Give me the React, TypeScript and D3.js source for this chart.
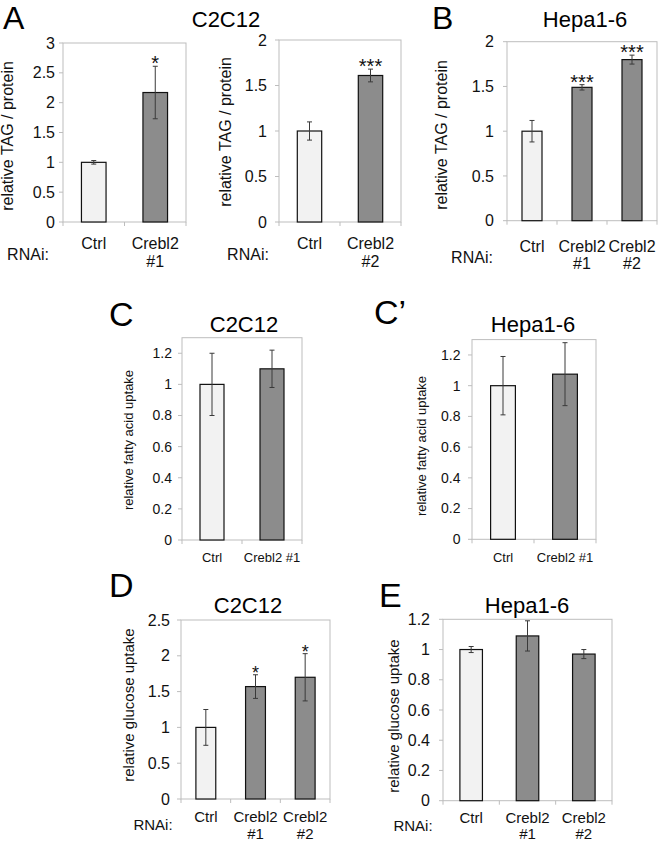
import React from "react";
import * as d3 from "d3";

// ---------- DATA ----------
const catsA1 = [["Ctrl"], ["Crebl2", "#1"]];
const valsA1 = [1.0, 2.17];
const errA1 = [0.03, 0.44];
const starsA1 = ["", "*"];

const catsA2 = [["Ctrl"], ["Crebl2", "#2"]];
const valsA2 = [1.0, 1.61];
const errA2 = [0.1, 0.07];
const starsA2 = ["", "***"];

const catsB = [["Ctrl"], ["Crebl2", "#1"], ["Crebl2", "#2"]];
const valsB = [1.0, 1.49, 1.8];
const errB = [0.12, 0.03, 0.05];
const starsB = ["", "***", "***"];

const catsC = [["Ctrl"], ["Crebl2 #1"]];
const valsC = [1.0, 1.1];
const errC = [0.2, 0.12];

const catsC2 = [["Ctrl"], ["Crebl2 #1"]];
const valsC2 = [1.0, 1.075];
const errC2 = [0.19, 0.205];

const catsD = [["Ctrl"], ["Crebl2", "#1"], ["Crebl2", "#2"]];
const valsD = [1.0, 1.57, 1.7];
const errD = [0.25, 0.165, 0.33];
const starsD = ["", "*", "*"];

const catsE = [["Ctrl"], ["Crebl2", "#1"], ["Crebl2", "#2"]];
const valsE = [1.0, 1.09, 0.97];
const errE = [0.02, 0.1, 0.03];

const ticksTAG3 = [0, 0.5, 1, 1.5, 2, 2.5, 3];
const ticksTAG2 = [0, 0.5, 1, 1.5, 2];
const ticksFA = [0, 0.2, 0.4, 0.6, 0.8, 1, 1.2];
const ticksGluD = [0, 0.5, 1, 1.5, 2, 2.5];
const ticksGluE = [0, 0.2, 0.4, 0.6, 0.8, 1, 1.2];

// ---------- STYLE ----------
const FONT = "'Liberation Sans', Arial, Helvetica, sans-serif";
const CTRL_FILL = "#f2f2f2";
const TREAT_FILL = "#8c8c8c";
const FRAME = "#bdbdbd";
const ERR = "#3a3a3a";

type PanelProps = {
  x0: number; x1: number; y0: number; y1: number;
  yMax: number; ticks: number[];
  cats: string[][]; vals: number[]; errs: number[]; stars?: string[];
  tickFont: number; tickGap: number;
  catFont: number; catY1: number; catY2: number;
  yLabel: string; yLabelFont: number; yLabelX: number; yLabelY: number;
  rnai?: { x: number; y: number; font: number };
  starFont?: number;
};

function Panel(p: PanelProps) {
  const x = d3
    .scaleBand<number>()
    .domain(p.vals.map((_, i) => i))
    .range([p.x0, p.x1])
    .paddingInner(0.6)
    .paddingOuter(0.3);
  const y = d3.scaleLinear().domain([0, p.yMax]).range([p.y1, p.y0]);
  const step = x.step();
  const fmt = (v: number) => String(+v.toFixed(1));
  const boundaries = d3.range(p.vals.length + 1).map((i) => p.x0 + i * step);
  return (
    <g fontFamily={FONT}>
      <rect x={p.x0} y={p.y0} width={p.x1 - p.x0} height={p.y1 - p.y0} fill="white" stroke={FRAME} strokeWidth={1} />
      {p.ticks.map((t) => (
        <g key={"yt" + t}>
          <line x1={p.x0 - 4} x2={p.x0} y1={y(t)} y2={y(t)} stroke={FRAME} />
          <text x={p.x0 - p.tickGap} y={y(t)} dy="0.35em" textAnchor="end" fontSize={p.tickFont} fill="#111">
            {fmt(t)}
          </text>
        </g>
      ))}
      {boundaries.map((bx, i) => (
        <line key={"xt" + i} x1={bx} x2={bx} y1={p.y1} y2={p.y1 + 4} stroke={FRAME} />
      ))}
      {p.vals.map((v, i) => {
        const bx = x(i)!;
        const bw = x.bandwidth();
        const cx = bx + bw / 2;
        const top = y(v);
        const eTop = y(v + p.errs[i]);
        const eBot = y(v - p.errs[i]);
        const star = p.stars ? p.stars[i] : "";
        return (
          <g key={"b" + i}>
            <rect x={bx} y={top} width={bw} height={p.y1 - top} fill={i === 0 ? CTRL_FILL : TREAT_FILL} stroke="#111" strokeWidth={1.2} />
            <line x1={cx} x2={cx} y1={eTop} y2={eBot} stroke={ERR} strokeWidth={1} />
            <line x1={cx - 2.5} x2={cx + 2.5} y1={eTop} y2={eTop} stroke={ERR} strokeWidth={1} />
            <line x1={cx - 2.5} x2={cx + 2.5} y1={eBot} y2={eBot} stroke={ERR} strokeWidth={1} />
            {star && (
              <text x={cx} y={eTop + 4} textAnchor="middle" fontSize={p.starFont ?? 20} fill="#111">
                {star}
              </text>
            )}
          </g>
        );
      })}
      {p.cats.map((lines, i) => {
        const cx = x(i)! + x.bandwidth() / 2;
        return (
          <g key={"c" + i}>
            {lines.map((ln, j) => (
              <text key={j} x={cx} y={j === 0 ? p.catY1 : p.catY2} textAnchor="middle" fontSize={p.catFont} fill="#111">
                {ln}
              </text>
            ))}
          </g>
        );
      })}
      {p.rnai && (
        <text x={p.rnai.x} y={p.rnai.y} textAnchor="middle" fontSize={p.rnai.font} fill="#111">
          RNAi:
        </text>
      )}
      <text
        transform={`translate(${p.yLabelX},${p.yLabelY}) rotate(-90)`}
        textAnchor="middle"
        fontSize={p.yLabelFont}
        fill="#111"
      >
        {p.yLabel}
      </text>
    </g>
  );
}

export default function App() {
  return (
    <svg width={658} height={843} style={{ position: "absolute", left: 0, top: 0, background: "white" }} fontFamily={FONT}>
      <rect width={658} height={843} fill="white" />
      <text x={3} y={29} fontSize={32} fontFamily={FONT}>A</text>
      <text x={226} y={27} fontSize={22} textAnchor="middle" fontFamily={FONT}>C2C12</text>
      <text x={432} y={29} fontSize={32} fontFamily={FONT}>B</text>
      <text x={585} y={27} fontSize={22} textAnchor="middle" fontFamily={FONT}>Hepa1-6</text>
      <text x={109} y={326} fontSize={34} fontFamily={FONT}>C</text>
      <text x={244} y={332} fontSize={22} textAnchor="middle" fontFamily={FONT}>C2C12</text>
      <text x={374} y={324} fontSize={34} fontFamily={FONT}>C’</text>
      <text x={533} y={332} fontSize={22} textAnchor="middle" fontFamily={FONT}>Hepa1-6</text>
      <text x={109} y={597} fontSize={34} fontFamily={FONT}>D</text>
      <text x={248} y={613} fontSize={22} textAnchor="middle" fontFamily={FONT}>C2C12</text>
      <text x={379} y={607} fontSize={34} fontFamily={FONT}>E</text>
      <text x={527} y={613} fontSize={22} textAnchor="middle" fontFamily={FONT}>Hepa1-6</text>

      <Panel x0={63} x1={186} y0={43} y1={222} yMax={3} ticks={ticksTAG3}
        cats={catsA1} vals={valsA1} errs={errA1} stars={starsA1}
        tickFont={16} tickGap={8} catFont={16} catY1={249} catY2={267}
        yLabel="relative TAG / protein" yLabelFont={16} yLabelX={13} yLabelY={136}
        rnai={{ x: 28, y: 260, font: 16 }} />
      <Panel x0={279} x1={401} y0={40} y1={222} yMax={2} ticks={ticksTAG2}
        cats={catsA2} vals={valsA2} errs={errA2} stars={starsA2}
        tickFont={16} tickGap={12} catFont={16} catY1={249} catY2={267}
        yLabel="relative TAG / protein" yLabelFont={16} yLabelX={231} yLabelY={132}
        rnai={{ x: 248, y: 260, font: 16 }} />
      <Panel x0={507} x1={657} y0={41.7} y1={220.7} yMax={2} ticks={ticksTAG2}
        cats={catsB} vals={valsB} errs={errB} stars={starsB}
        tickFont={16} tickGap={13} catFont={16} catY1={251.5} catY2={268.5}
        yLabel="relative TAG / protein" yLabelFont={16} yLabelX={447} yLabelY={135}
        rnai={{ x: 472, y: 263, font: 16 }} />
      <Panel x0={182} x1={302} y0={337.7} y1={540} yMax={1.3} ticks={ticksFA}
        cats={catsC} vals={valsC} errs={errC}
        tickFont={14} tickGap={10} catFont={13} catY1={561.5} catY2={561.5}
        yLabel="relative fatty acid uptake" yLabelFont={13} yLabelX={133} yLabelY={440} />
      <Panel x0={472} x1={596} y0={339.6} y1={539.3} yMax={1.3} ticks={ticksFA}
        cats={catsC2} vals={valsC2} errs={errC2}
        tickFont={14} tickGap={11.5} catFont={13} catY1={561.5} catY2={561.5}
        yLabel="relative fatty acid uptake" yLabelFont={13} yLabelX={426} yLabelY={446} />
      <Panel x0={181} x1={330} y0={620} y1={799} yMax={2.5} ticks={ticksGluD}
        cats={catsD} vals={valsD} errs={errD} stars={starsD} starFont={18}
        tickFont={16} tickGap={11} catFont={15} catY1={822} catY2={839}
        yLabel="relative glucose uptake" yLabelFont={15} yLabelX={134} yLabelY={705}
        rnai={{ x: 153, y: 830, font: 15 }} />
      <Panel x0={443} x1={612} y0={619.3} y1={800.7} yMax={1.2} ticks={ticksGluE}
        cats={catsE} vals={valsE} errs={errE}
        tickFont={16} tickGap={13} catFont={15} catY1={823} catY2={839}
        yLabel="relative glucose uptake" yLabelFont={15} yLabelX={399} yLabelY={716}
        rnai={{ x: 413, y: 831, font: 15 }} />
    </svg>
  );
}
